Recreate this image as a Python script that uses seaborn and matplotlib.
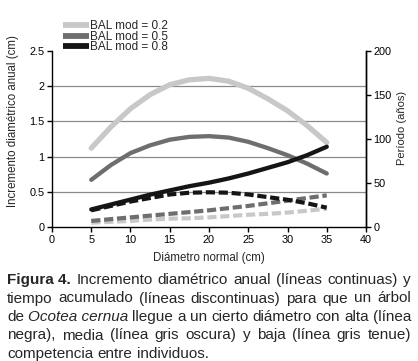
import pandas as pd
import matplotlib.pyplot as plt
import seaborn as sns

sns.set_style("ticks")
plt.rcParams["font.family"] = ["Liberation Sans", "DejaVu Sans"]

## Data
diam = [5, 7.5, 10, 12.5, 15, 17.5, 20, 22.5, 25, 27.5, 30, 32.5, 35]
groups = ["BAL mod = 0.2", "BAL mod = 0.5", "BAL mod = 0.8"]
incr_02 = [1.12, 1.42, 1.68, 1.88, 2.02, 2.09, 2.11, 2.07, 1.97, 1.82, 1.65, 1.44, 1.20]
incr_05 = [0.67, 0.88, 1.05, 1.16, 1.24, 1.28, 1.29, 1.27, 1.21, 1.12, 1.02, 0.90, 0.76]
incr_08 = [0.25, 0.32, 0.39, 0.46, 0.52, 0.58, 0.63, 0.69, 0.76, 0.84, 0.92, 1.02, 1.14]
time_02 = [5, 6, 7, 8.5, 9.5, 10, 11, 12.5, 14, 15, 16.5, 18.5, 21]
time_05 = [7, 9, 11, 13, 15, 17, 19, 21.5, 24, 27, 30, 33, 36]
time_08 = [19, 24, 29, 33, 37, 39, 39.5, 39, 37, 34, 31, 27, 22]
colors = ["#c8c8c8", "#6e6e6e", "#151515"]

caption = [
    [("Figura 4.", "bold"), ("Incremento", ""), ("diamétrico", ""), ("anual", ""), ("(líneas", ""), ("continuas)", ""), ("y", "")],
    [("tiempo", ""), ("acumulado", ""), ("(líneas", ""), ("discontinuas)", ""), ("para", ""), ("que", ""), ("un", ""), ("árbol", "")],
    [("de", ""), ("Ocotea cernua", "italic"), ("llegue", ""), ("a", ""), ("un", ""), ("cierto", ""), ("diámetro", ""), ("con", ""), ("alta", ""), ("(línea", "")],
    [("negra),", ""), ("media", ""), ("(línea", ""), ("gris", ""), ("oscura)", ""), ("y", ""), ("baja", ""), ("(línea", ""), ("gris", ""), ("tenue)", "")],
    [("competencia", ""), ("entre", ""), ("individuos.", "")],
]

incr = pd.DataFrame({
    "diam": diam * 3,
    "val": incr_02 + incr_05 + incr_08,
    "grp": [g for g in groups for _ in diam],
})
tiempo = pd.DataFrame({
    "diam": diam * 3,
    "val": time_02 + time_05 + time_08,
    "grp": [g for g in groups for _ in diam],
})

fig = plt.figure(figsize=(4.18, 3.61), dpi=100)
ax = fig.add_axes([0.1244, 0.371, 0.7512, 0.488])
ax2 = ax.twinx()

sns.lineplot(ax=ax, data=incr, x="diam", y="val", hue="grp",
             palette=colors, linewidth=3.1, legend=False)
ax.lines[0].set_linewidth(3.8)
sns.lineplot(ax=ax2, data=tiempo, x="diam", y="val", hue="grp",
             palette=colors, linewidth=3.0, legend=False)
for ln in ax2.lines:
    ln.set_dashes((2.2, 0.9))
    ln.set_solid_capstyle("butt")

ax.set(xlim=(0, 40), ylim=(0, 2.5), xticks=range(0, 41, 5),
       yticks=[0, 0.5, 1, 1.5, 2, 2.5])
ax.set_yticklabels(["0", "0.5", "1", "1.5", "2", "2.5"])
ax2.set(ylim=(0, 200), yticks=range(0, 201, 50))
ax.set_xlabel("Diámetro normal (cm)", fontsize=8.3)
ax.set_ylabel("Incremento diamétrico anual (cm)", fontsize=8.3)
ax2.set_ylabel("Período (años)", fontsize=8.0)
ax.yaxis.set_label_coords(-0.105, 0.60)
ax2.yaxis.set_label_coords(1.10, 0.565)
ax.xaxis.set_label_coords(0.5, -0.14)

ax.grid(axis="y", color="#8a8a8a", linewidth=0.9)
ax.get_ygridlines()[-1].set_visible(False)
ax.get_ygridlines()[0].set_visible(False)
ax.set_axisbelow(True)
for a in (ax, ax2):
    a.spines["top"].set_visible(False)
    for s in a.spines.values():
        s.set_linewidth(1.0)
        s.set_color("black")
    a.tick_params(labelsize=7.8, length=3.5, width=1.0, pad=2, colors="black")
ax2.spines["left"].set_visible(False)
ax2.spines["bottom"].set_visible(False)

## Legend above the plot area
handles = [plt.Line2D([], [], color=c, linewidth=4.2, solid_capstyle="butt") for c in colors]
fig.legend(handles, groups, loc="upper left", bbox_to_anchor=(0.15, 0.945),
           frameon=False, fontsize=8.5, handlelength=2.2, handletextpad=0.15,
           labelspacing=-0.1, borderpad=0, borderaxespad=0)

## Justified caption
fig.canvas.draw()
renderer = fig.canvas.get_renderer()
x0, x1 = 7 / 418, 411 / 418
y_start = 1 - 284 / 361
dy = 18.5 / 361
for i, line in enumerate(caption):
    texts = []
    for word, style in line:
        t = fig.text(0, y_start - i * dy, word, fontsize=11,
                     fontweight="bold" if style == "bold" else "normal",
                     fontstyle="italic" if style == "italic" else "normal",
                     va="baseline", ha="left")
        texts.append(t)
    widths = [t.get_window_extent(renderer).width / fig.bbox.width for t in texts]
    if i < len(caption) - 1:
        gap = (x1 - x0 - sum(widths)) / (len(texts) - 1)
    else:
        sp = fig.text(0, 0, "a b", fontsize=11)
        sp2 = fig.text(0, 0, "ab", fontsize=11)
        gap = (sp.get_window_extent(renderer).width - sp2.get_window_extent(renderer).width) / fig.bbox.width
        sp.remove()
        sp2.remove()
    x = x0
    for t, w in zip(texts, widths):
        t.set_x(x)
        x += w + gap

fig.savefig("out.png", dpi=100)
